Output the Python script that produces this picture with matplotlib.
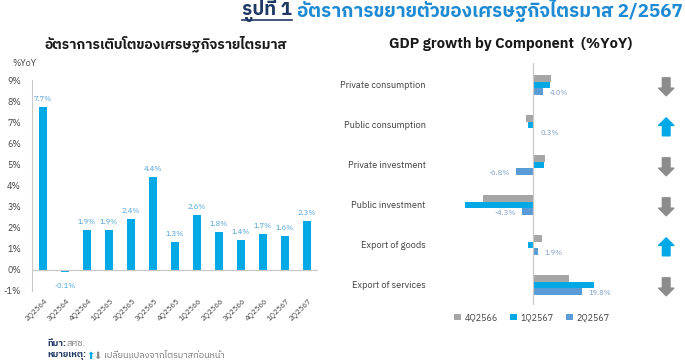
import matplotlib
matplotlib.use('Agg')
import matplotlib.pyplot as plt
from matplotlib import font_manager
from matplotlib.ft2font import FT2Font
from matplotlib.lines import Line2D


def find_thai_font():
    # prefer a loopless Thai family, otherwise anything that has the glyphs
    names = sorted({f.name for f in font_manager.fontManager.ttflist if 'Thai' in f.name},
                   key=lambda n: ('Looped' in n, n))
    if names:
        return names[0]
    for f in font_manager.fontManager.ttflist:
        try:
            if 0x0E01 in FT2Font(f.fname).get_charmap():
                return f.name
        except Exception:
            pass
    return None


thai = find_thai_font()
fams = ([thai] if thai else []) + ['Lato', 'DejaVu Sans']
plt.rcParams['font.family'] = fams

# left chart: GDP growth by quarter
quarters = ['2Q2564', '3Q2564', '4Q2564', '1Q2565', '2Q2565', '3Q2565', '4Q2565',
            '1Q2566', '2Q2566', '3Q2566', '4Q2566', '1Q2567', '2Q2567']
gdp_growth = [7.7, -0.1, 1.9, 1.9, 2.4, 4.4, 1.3, 2.6, 1.8, 1.4, 1.7, 1.6, 2.3]

# right chart: growth by component
components = ['Private consumption', 'Public consumption', 'Private investment',
              'Public investment', 'Export of goods', 'Export of services']
series_names = ['4Q2566', '1Q2567', '2Q2567']
q4_2566 = [7.4, -3.0, 5.0, -20.1, 3.6, 14.7]
q1_2567 = [6.9, -2.1, 4.6, -27.7, -2.0, 24.6]
q2_2567 = [4.0, 0.3, -6.8, -4.3, 1.9, 19.8]
change_dir = ['down', 'up', 'down', 'down', 'up', 'down']

CYAN = '#00a9e6'
GRAY = '#a6a6a6'
STEEL = '#5b9bd5'
AXIS = '#c8c8c8'
TXT = '#404040'

W, H = 685, 360
fig = plt.figure(figsize=(W / 100, H / 100), dpi=100)

# ---------------- left chart ----------------
ax1 = fig.add_axes([32 / W, 1 - 291 / H, 286 / W, 211 / H])
x = list(range(len(quarters)))
bars = ax1.bar(x, gdp_growth, width=0.4, color=CYAN)
for b, v in zip(bars, gdp_growth):
    off = 3 if v >= 0 else -7
    ax1.annotate(f'{v:.1f}%', (b.get_x() + b.get_width() / 2, v), xytext=(0, off),
                 textcoords='offset points', ha='center', va='bottom' if v >= 0 else 'top',
                 fontsize=5.5, color='#4a9fd8')
ax1.set_xlim(-0.5, len(quarters) - 0.5)
ax1.set_ylim(-1, 9)
ax1.set_yticks(range(-1, 10))
ax1.set_yticklabels([f'{t}%' for t in range(-1, 10)])
ax1.set_xticks(x)
ax1.set_xticklabels(quarters, rotation=45, ha='right', rotation_mode='anchor')
ax1.tick_params(axis='y', length=0, pad=8, labelsize=6.5, labelcolor=TXT)
ax1.tick_params(axis='x', length=0, pad=4, labelsize=5.5, labelcolor=TXT)
for s in ['top', 'right', 'bottom']:
    ax1.spines[s].set_visible(False)
ax1.spines['left'].set_color(AXIS)
ax1.axhline(0, color=AXIS, lw=0.9)
fig.text(12 / W, 1 - 63 / H, '%YoY', fontsize=6.5, color=TXT, va='center')
fig.text(166 / W, 1 - 44 / H, 'อัตราการเติบโตของเศรษฐกิจรายไตรมาส', fontsize=10,
         fontweight='bold', ha='center', va='center', color='#1a1a1a')

# ---------------- right chart ----------------
ax2 = fig.add_axes([459 / W, 1 - 305 / H, 222 / W, 242 / H])
rows = list(range(len(components)))
bh = 0.16
colors = [GRAY, CYAN, STEEL]
for k, (vals, c, name) in enumerate(zip([q4_2566, q1_2567, q2_2567], colors, series_names)):
    ax2.barh([r + (k - 1) * bh for r in rows], vals, height=bh, color=c, label=name)
for r, v in zip(rows, q2_2567):
    ax2.annotate(f'{v:.1f}%', (v, r + bh), xytext=(5 if v >= 0 else -5, -1),
                 textcoords='offset points', ha='left' if v >= 0 else 'right', va='center',
                 fontsize=5.5, color='#7a9cc8')
ax2.set_xlim(-30, 60)
ax2.set_ylim(5.5, -0.55)
ax2.axvline(0, color=AXIS, lw=0.9)
ax2.set_xticks([])
ax2.set_yticks(rows)
ax2.set_yticklabels(components)
ax2.tick_params(axis='y', length=0, pad=24, labelsize=6.7, labelcolor=TXT)
for s in ax2.spines.values():
    s.set_visible(False)
for r, d in zip(rows, change_dir):
    top, bot = r - 0.18, r + 0.27
    if d == 'up':
        tip, tail, c = top, bot, CYAN
    else:
        tip, tail, c = bot, top, '#8c8c8c'
    ax2.annotate('', xy=(54, tip), xytext=(54, tail),
                 arrowprops=dict(arrowstyle='simple,head_length=0.55,head_width=1.1,tail_width=0.55',
                                 color=c, shrinkA=0, shrinkB=0, mutation_scale=10),
                 annotation_clip=False)
ax2.legend(loc='upper center', bbox_to_anchor=((532 - 459) / 222, 0.0), ncol=3,
           frameon=False, fontsize=6.5, handlelength=0.8, handleheight=0.8,
           handletextpad=0.4, columnspacing=1.3, labelcolor=TXT)
fig.text(511 / W, 1 - 44 / H, 'GDP growth by Component  (%YoY)', fontsize=10.5,
         fontweight='bold', ha='center', va='center', color='#1a1a1a')

# ---------------- main title ----------------
t2 = fig.text(683 / W, 1 - 11 / H, 'อัตราการขยายตัวของเศรษฐกิจไตรมาส 2/2567', fontsize=13.6,
              fontweight='bold', ha='right', va='center', color='#1e8ad3')
fig.canvas.draw()
b2 = t2.get_window_extent().transformed(fig.transFigure.inverted())
t1 = fig.text(b2.x0 - 5 / W, 1 - 11 / H, 'รูปที่ 1', fontsize=13.6, fontweight='bold',
              ha='right', va='center', color='#1f3864')
fig.canvas.draw()
bb = t1.get_window_extent().transformed(fig.transFigure.inverted())
fig.add_artist(Line2D([bb.x0, bb.x1], [bb.y0 + 0.006, bb.y0 + 0.006], color='#1f3864',
                      lw=1.2, transform=fig.transFigure))

# ---------------- notes ----------------
fig.text(47 / W, 1 - 344 / H, 'ที่มา:', fontsize=6.5, fontweight='bold', color='#1f3864', va='center')
fig.text(66 / W, 1 - 344 / H, 'สศช.', fontsize=6.5, color='#707070', va='center')
fig.text(47 / W, 1 - 356 / H, 'หมายเหตุ:', fontsize=6.5, fontweight='bold',
         color='#1f3864', va='center')
fig.text(86 / W, 1 - 356 / H, '⬆', fontsize=7, color=CYAN, va='center',
         family=['DejaVu Sans'])
fig.text(93 / W, 1 - 356 / H, '⬇', fontsize=7, color='#8c8c8c', va='center',
         family=['DejaVu Sans'])
fig.text(104 / W, 1 - 356 / H, 'เปลี่ยนแปลงจากไตรมาสก่อนหน้า', fontsize=6.5, color='#707070',
         va='center')

fig.savefig('out.png', dpi=100)
